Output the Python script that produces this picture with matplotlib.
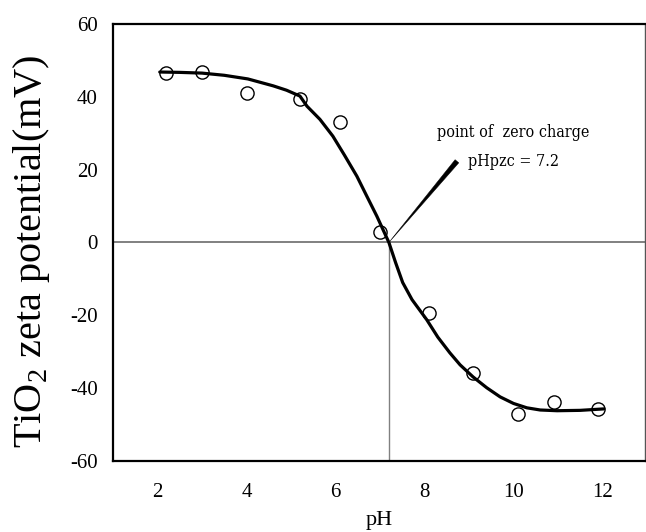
import numpy as np
import matplotlib
matplotlib.use("Agg")
import matplotlib.pyplot as plt
from matplotlib import font_manager as fm

plt.rcParams['font.family'] = ['Liberation Serif', 'DejaVu Serif']
plt.rcParams['mathtext.fontset'] = 'custom'
plt.rcParams['mathtext.rm'] = 'Liberation Serif'

# measured zeta potential of TiO2
ph_meas = [2.2, 3.0, 4.0, 5.2, 6.1, 7.0, 8.1, 9.1, 10.1, 10.9, 11.9]
zeta_meas = [46.5, 46.8, 41.0, 39.4, 33.0, 3.0, -19.5, -35.8, -47.1, -43.8, -45.7]

# fitted curve
ph_fit = [2.05, 2.5, 3.0, 3.5, 4.03, 4.6, 4.9, 5.2, 5.36, 5.65, 5.94, 6.2, 6.48, 6.7, 6.93, 7.2,
          7.35, 7.51, 7.72, 8.05, 8.3, 8.57, 8.8, 9.09, 9.4, 9.7, 10.0, 10.3, 10.6,
          10.98, 11.5, 12.03]
zeta_fit = [46.8, 46.7, 46.5, 45.9, 44.9, 43.0, 41.8, 40.2, 37.4, 33.8, 29.2, 24.0, 18.2, 12.8, 7.2, 0.0,
            -5.5, -11.0, -15.7, -21.2, -26.0, -30.3, -33.6, -36.9, -39.9, -42.4, -44.2, -45.4, -46.0,
            -46.2, -46.1, -45.7]

pzc = 7.2
x_ticks = [2, 4, 6, 8, 10, 12]
y_ticks = [-60, -40, -20, 0, 20, 40, 60]

# pick a narrow face for the annotation if one is installed
note_font = dict(family='Liberation Serif')
entries = fm.fontManager.ttflist
for fam, stretch in [('Liberation Sans Narrow', None), ('DejaVu Serif', 'condensed'),
                     ('DejaVu Sans', 'condensed')]:
    for f in entries:
        if f.name == fam and (stretch is None or f.stretch == stretch):
            note_font = dict(family=fam)
            if stretch:
                note_font['fontstretch'] = stretch
            break
    if note_font['family'] != 'Liberation Serif':
        break

fig = plt.figure(figsize=(6.46, 5.32), dpi=100)
ax = fig.add_axes([0.175, 0.1335, 0.823, 0.8215])

ax.axhline(0, color='#808080', lw=1.4, zorder=1)
ax.plot([pzc, pzc], [-60, 0], color='#808080', lw=1.0, zorder=1)

ax.plot(ph_fit, zeta_fit, color='black', lw=2.3, solid_capstyle='round',
        solid_joinstyle='round', zorder=2)
ax.plot(ph_meas, zeta_meas, 'o', ms=9.5, mfc='none', mec='black', mew=1.0, zorder=3)

# tapered pointer from the label to the crossing
ax.annotate('', xy=(pzc, 0), xytext=(8.73, 22.3),
            arrowprops=dict(arrowstyle='wedge,tail_width=0.35', fc='black', ec='black', lw=0.3,
                            shrinkA=0, shrinkB=0))
ax.text(10.0, 30.3, 'point of  zero charge', ha='center', va='center', fontsize=11.5,
        **note_font)
ax.text(10.0, 22.3, 'pHpzc = 7.2', ha='center', va='center', fontsize=11.5,
        **note_font)

ax.set_xlim(1.0, 12.95)
ax.set_ylim(-60, 60)
ax.set_xticks(x_ticks)
ax.set_yticks(y_ticks)
ax.set_yticklabels([str(v) for v in y_ticks])
ax.tick_params(length=0, labelsize=15)
ax.tick_params(axis='x', pad=16)
ax.tick_params(axis='y', pad=11)

for side in ['left', 'bottom', 'top']:
    ax.spines[side].set_linewidth(1.6)
ax.spines['right'].set_linewidth(1.0)
ax.spines['right'].set_color('#555555')

ax.set_xlabel('pH', fontsize=16, labelpad=6)
ax.set_ylabel(r'TiO$_2$ zeta potential(mV)', fontsize=29, labelpad=13)
ax.yaxis.label.set_y(0.48)

fig.savefig('out.png', dpi=100)
